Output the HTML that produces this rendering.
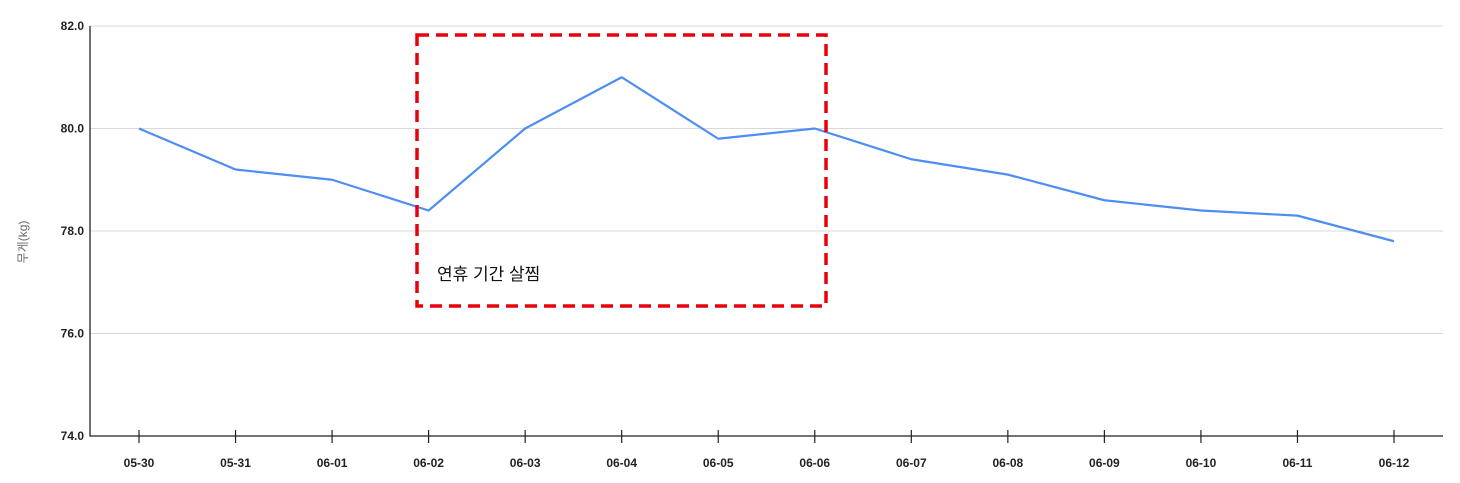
<!DOCTYPE html>
<html><head><meta charset="utf-8"><style>
html,body{margin:0;padding:0;background:#fff;}
svg{display:block;font-family:"Liberation Sans","Noto Sans CJK KR",sans-serif;}
</style></head><body>
<svg id="chart" width="1460" height="483"></svg>
<script>
const categories=["05-30","05-31","06-01","06-02","06-03","06-04","06-05","06-06","06-07","06-08","06-09","06-10","06-11","06-12"];
const weights=[80.0,79.2,79.0,78.4,80.0,81.0,79.8,80.0,79.4,79.1,78.6,78.4,78.3,77.8];
const yTicks=[74,76,78,80,82];
const NS="http://www.w3.org/2000/svg";
const svg=document.getElementById('chart');
const x0=90,x1=1443,y0=436,y1=26,yMin=74,yMax=82;
const xs=i=>139+i*(1394-139)/(categories.length-1);
const ys=v=>y0-(v-yMin)/(yMax-yMin)*(y0-y1);
function mk(t,a){const e=document.createElementNS(NS,t);for(const k in a)e.setAttribute(k,a[k]);svg.appendChild(e);return e;}
yTicks.forEach(v=>{
 if(v>yMin){const g=mk('line',{x1:x0,x2:x1,y1:ys(v),y2:ys(v),stroke:'#d9d9d9','stroke-width':1});
 
 }
 const t=mk('text',{x:84,y:ys(v)+4,'text-anchor':'end','font-size':12,'font-weight':'bold',fill:'#222'});
 t.textContent=v.toFixed(1);
 
 
});
const ax=mk('path',{d:`M${x0} ${y1}V${y0}H${x1}`,fill:'none',stroke:'#222','stroke-width':1.3});


categories.forEach((c,i)=>{
 const tk=mk('line',{x1:xs(i),x2:xs(i),y1:430,y2:443,stroke:'#222','stroke-width':1.2});
 
 
 const t=mk('text',{x:xs(i),y:467,'text-anchor':'middle','font-size':12,'font-weight':'bold',fill:'#222'});
 t.textContent=c;
 
 
});
const yl=mk('text',{x:0,y:0,transform:'translate(27,242) rotate(-90)','text-anchor':'middle','font-size':12,fill:'#666'});
yl.textContent='무게(kg)';


const ln=mk('polyline',{points:weights.map((v,i)=>xs(i)+','+ys(v)).join(' '),fill:'none',stroke:'#4e8ef2','stroke-width':2.2,'stroke-linejoin':'round'});


const box=mk('rect',{x:417,y:35,width:409,height:271,fill:'none',stroke:'#e8000b','stroke-width':3.5,'stroke-dasharray':'12,7'});


const an=mk('text',{x:437,y:280,'font-size':17,fill:'#111'});
an.textContent='연휴 기간 살찜';


</script>
</body></html>
